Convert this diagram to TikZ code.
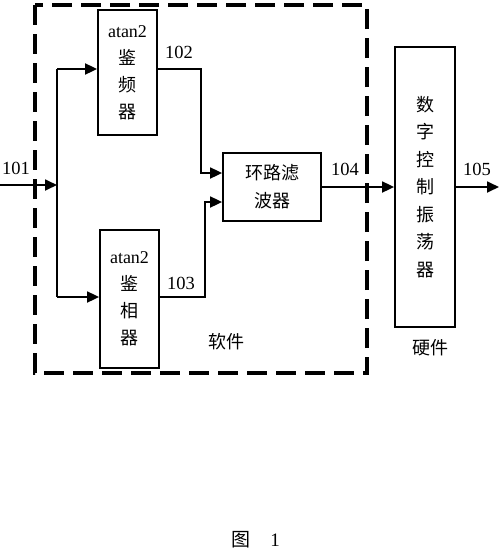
\documentclass[tikz,border=0pt]{standalone}
\usepackage{fontspec}
\setmainfont{Liberation Serif}
\newfontfamily\cjk{Noto Sans CJK SC}
\usetikzlibrary{arrows.meta,calc}
\tikzset{
  blk/.style={draw,line width=1.8pt,rectangle,inner sep=0pt,align=center,font=\fontsize{18}{27}\selectfont},
  arr/.style={line width=1.8pt,-{Triangle[length=12pt,width=11pt]}},
  wire/.style={line width=1.8pt},
  lbl/.style={font=\fontsize{18.5}{20}\selectfont,inner sep=0pt},
  zh/.style={font=\cjk\fontsize{18}{20}\selectfont,inner sep=0pt},
  frame/.style={line width=4pt,dash pattern=on 20pt off 9pt}
}
\begin{document}
\begin{tikzpicture}[x=1pt,y=-1pt]
\useasboundingbox (0,0) rectangle (500,555);
% dashed software frame
\draw[frame] (35,5) rectangle (367,373);
% blocks
\node[blk,minimum width=59pt,minimum height=125pt] (fd) at (127.5,72.5) {atan2\\{\cjk 鉴}\\{\cjk 频}\\{\cjk 器}};
\node[blk,minimum width=59pt,minimum height=138pt] (pd) at (129.5,299) {atan2\\{\cjk 鉴}\\{\cjk 相}\\{\cjk 器}};
\node[blk,minimum width=98pt,minimum height=68pt,font=\cjk\fontsize{18}{28}\selectfont] (lf) at (272,187) {环路滤\\波器};
\node[blk,minimum width=60pt,minimum height=280pt,font=\cjk\fontsize{18}{27.5}\selectfont] (nco) at (425,187) {数\\字\\控\\制\\振\\荡\\器};
% connectors
\coordinate (in) at (0,185);
\coordinate (j) at (57,185);
\coordinate (out) at (499,187);
\draw[arr] (in) -- (j);
\draw[wire] (j |- 0,69) -- (j |- 0,297);
\draw[arr] (j |- 0,69) -- ($(fd.west)+(0,-3.5)$);
\draw[arr] (j |- 0,297) -- (pd.west |- 0,297);
\draw[arr] ($(fd.east)+(0,-3.5)$) -| (201,173) -- ($(lf.west)+(0,-14)$);
\draw[arr] (pd.east |- 0,297) -| (205,202) -- ($(lf.west)+(0,15)$);
\draw[arr] (lf.east) -- (nco.west);
\draw[arr] (nco.east) -- (out);
% labels
\node[lbl] (l101) at (16,168) {101};
\node[lbl] (l102) at (179,52) {102};
\node[lbl] (l103) at (181,283) {103};
\node[lbl] (l104) at (345,169) {104};
\node[lbl] (l105) at (477,169) {105};
\node[zh] (sw) at (226,342) {软件};
\node[zh] (hw) at (430,348) {硬件};
\node[zh,font=\cjk\fontsize{19}{20}\selectfont] (fig) at (241,540) {图};
\node[lbl,font=\fontsize{19}{20}\selectfont] (fign) at (275,540) {1};
\end{tikzpicture}
\end{document}
